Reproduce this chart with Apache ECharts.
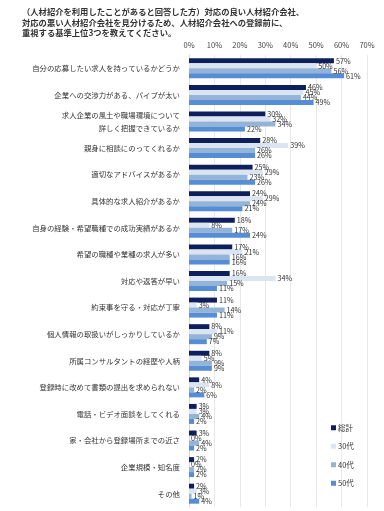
<!DOCTYPE html>
<html><head><meta charset="utf-8">
<script src="https://cdn.jsdelivr.net/npm/echarts@6/dist/echarts.min.js"></script>
<style>html,body{margin:0;padding:0;background:#fff}#c{width:384px;height:511px}</style>
</head><body><div id="c"></div>
<script>
const titleLines = ['（人材紹介を利用したことがあると回答した方）対応の良い人材紹介会社、','対応の悪い人材紹介会社を見分けるため、人材紹介会社への登録前に、','重視する基準上位3つを教えてください。'];
const categories = ['自分の応募したい求人を持っているかどうか','企業への交渉力がある、パイプが太い','求人企業の風土や職場環境について\n詳しく把握できているか','親身に相談にのってくれるか','適切なアドバイスがあるか','具体的な求人紹介があるか','自身の経験・希望職種での成功実績があるか','希望の職種や業種の求人が多い','対応や返答が早い','約束事を守る・対応が丁寧','個人情報の取扱いがしっかりしているか','所属コンサルタントの経歴や人柄','登録時に改めて書類の提出を求められない','電話・ビデオ面談をしてくれる','家・会社から登録場所までの近さ','企業規模・知名度','その他'];
const seriesNames = ['総計','30代','40代','50代'];
const total = [57,46,30,28,25,24,18,17,16,11,8,8,4,3,3,2,2];
const age30 = [50,45,32,39,29,29,8,21,34,3,11,5,8,3,0,0,3];
const age40 = [56,44,34,26,23,24,17,16,15,14,9,9,2,4,4,2,1];
const age50 = [61,49,22,26,26,21,24,16,11,11,7,9,6,2,2,2,4];
const tickValues = [0,10,20,30,40,50,60,70];
const colors = ['#0e1f5e','#dbe5f1','#95b3d7','#558ed5'];
const chart = echarts.init(document.getElementById('c'));
const mk = (name, data, color) => ({
  name, type:'bar', data, barWidth:5, barGap:'0%',
  itemStyle:{color},
  label:{show:true, position:'right', distance:2, formatter:'{c}%', fontSize:7.2, color:'#333', fontFamily:'Noto Sans CJK JP'}
});
chart.setOption({
  animation:false,
  title:{text:titleLines.join('\n'), left:17, top:2, textStyle:{fontSize:8.3, fontWeight:'bold', color:'#333', lineHeight:10.5, fontFamily:'Noto Sans CJK JP'}},
  grid:{left:189, right:17, top:55, bottom:4, containLabel:false},
  xAxis:{type:'value', position:'top', min:0, max:70, interval:10,
    axisLabel:{formatter:v=>tickValues.includes(v)?v+'%':'', fontSize:7.5, color:'#444', margin:6, fontFamily:'Noto Sans CJK JP'},
    axisLine:{show:false}, axisTick:{show:false},
    splitLine:{lineStyle:{color:'#e8e8e8', width:1}}},
  yAxis:{type:'category', data:categories, inverse:true,
    axisLine:{lineStyle:{color:'#d9d9d9'}}, axisTick:{show:false},
    axisLabel:{fontSize:7.4, color:'#333', margin:9, lineHeight:12.5, fontFamily:'Noto Sans CJK JP'}},
  legend:{orient:'vertical', left:326, top:419, itemWidth:5, itemHeight:5, itemGap:11, icon:'rect',
    textStyle:{fontSize:7.5, color:'#333', padding:[0,0,0,-3], fontFamily:'Noto Sans CJK JP'}, data:seriesNames},
  series:[mk(seriesNames[0],total,colors[0]),mk(seriesNames[1],age30,colors[1]),mk(seriesNames[2],age40,colors[2]),mk(seriesNames[3],age50,colors[3])]
});
</script></body></html>
